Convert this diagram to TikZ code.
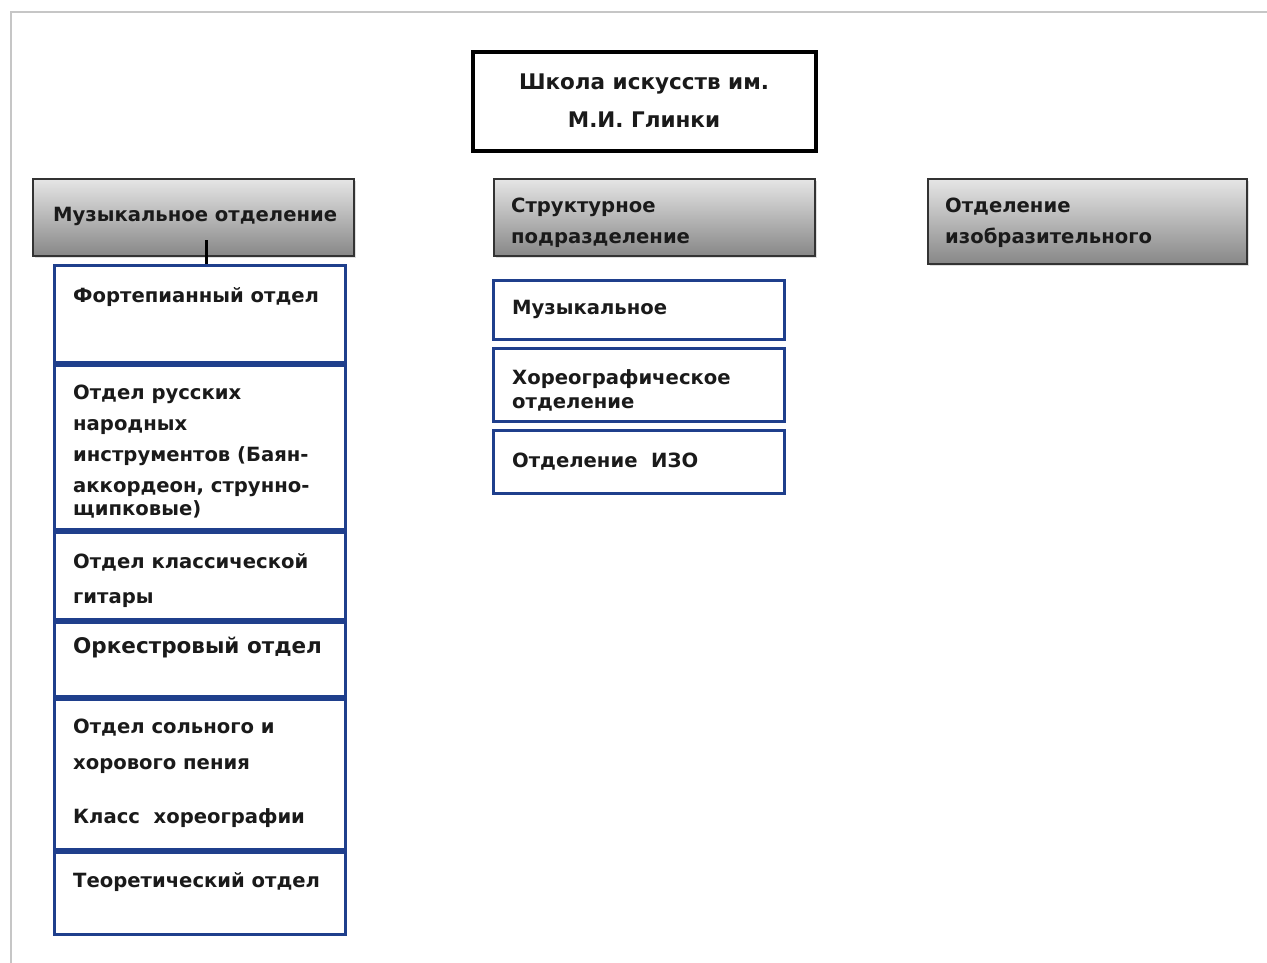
\documentclass[tikz,border=0pt]{standalone}
\usepackage{fontspec}
\setmainfont{DejaVu Sans}
\usetikzlibrary{shadows}
\definecolor{boxblue}{HTML}{1F3F8C}
\definecolor{txt}{HTML}{1A1A1A}
\tikzset{
  px/.style={x=1pt,y=-1pt},
  topbox/.style={draw=black, line width=4pt, fill=white, inner sep=0pt},
  graybox/.style={draw=black!80, line width=2pt, top color=black!10, bottom color=black!47, inner sep=0pt,
     drop shadow={opacity=0.25, shadow xshift=1.5pt, shadow yshift=-2pt}},
  bluebox/.style={draw=boxblue, line width=3pt, fill=white, inner sep=0pt},
  lbl/.style={anchor=base west, inner sep=0pt, text=txt, font=\fontsize{19.6}{22}\selectfont\bfseries},
  biglbl/.style={lbl, font=\fontsize{21.5}{24}\selectfont\bfseries},
  clbl/.style={anchor=base, inner sep=0pt, text=txt, font=\fontsize{21.5}{24}\selectfont\bfseries},
  tick/.style={draw=black, line width=3pt},
  frame/.style={draw=gray!45, line width=1.5pt}
}
% box given by its outer edges; line width #7 is taken off the size (outer sep already covers it)
\newcommand{\bx}[7]{\node[#1, minimum width=#4-#2-#7, minimum height=#5-#3-#7, anchor=north west] (#6) at (#2,#3) {};}
\begin{document}
\begin{tikzpicture}[px]
\useasboundingbox (0,0) rectangle (1267,963);
\draw[frame] (11,963) -- (11,12) -- (1267,12);

% top box
\bx{topbox}{471}{50}{818}{153}{school}{4}
\node[clbl] (school1) at (644,90) {Школа искусств им.};
\node[clbl] (school2) at (644,128) {М.И. Глинки};

% gray headers
\bx{graybox}{32}{178}{355}{257}{music}{2}
\node[lbl] (music1) at (53,221) {Музыкальное отделение};
\bx{graybox}{493}{178}{816}{257}{struct}{2}
\node[lbl] (struct1) at (511,212) {Структурное};
\node[lbl] (struct2) at (511,243) {подразделение};
\bx{graybox}{927}{178}{1248}{265}{art}{2}
\node[lbl] (art1) at (945,212) {Отделение};
\node[lbl] (art2) at (945,243) {изобразительного};

% left column
\bx{bluebox}{53}{264}{347}{364}{f1}{3}
\node[lbl] (t1) at (73,302) {Фортепианный отдел};
\bx{bluebox}{53}{364}{347}{531}{f2}{3}
\node[lbl] (t2a) at (73,399) {Отдел русских};
\node[lbl] (t2b) at (73,430) {народных};
\node[lbl] (t2c) at (73,461) {инструментов (Баян-};
\node[lbl] (t2d) at (73,492) {аккордеон, струнно-};
\node[lbl] (t2e) at (73,515) {щипковые)};
\bx{bluebox}{53}{531}{347}{621}{f3}{3}
\node[lbl] (t3a) at (73,568) {Отдел классической};
\node[lbl] (t3b) at (73,603) {гитары};
\bx{bluebox}{53}{621}{347}{698}{f4}{3}
\node[biglbl] (t4) at (73,653) {Оркестровый отдел};
\bx{bluebox}{53}{698}{347}{851}{f5}{3}
\node[lbl] (t5a) at (73,733) {Отдел сольного и};
\node[lbl] (t5b) at (73,769) {хорового пения};
\node[lbl] (t5c) at (73,823) {Класс\ \ хореографии};
\bx{bluebox}{53}{851}{347}{936}{f6}{3}
\node[lbl] (t6) at (73,887) {Теоретический отдел};

% middle column
\bx{bluebox}{492}{279}{786}{341}{m1}{3}
\node[lbl] (u1) at (512,314) {Музыкальное};
\bx{bluebox}{492}{347}{786}{423}{m2}{3}
\node[lbl] (u2a) at (512,384) {Хореографическое};
\node[lbl] (u2b) at (512,408) {отделение};
\bx{bluebox}{492}{429}{786}{495}{m3}{3}
\node[lbl] (u3) at (512,467) {Отделение\ \ ИЗО};

% connector
\coordinate (tk) at (206,240);
\draw[tick] (tk) -- (tk |- f1.north);
\end{tikzpicture}
\end{document}
